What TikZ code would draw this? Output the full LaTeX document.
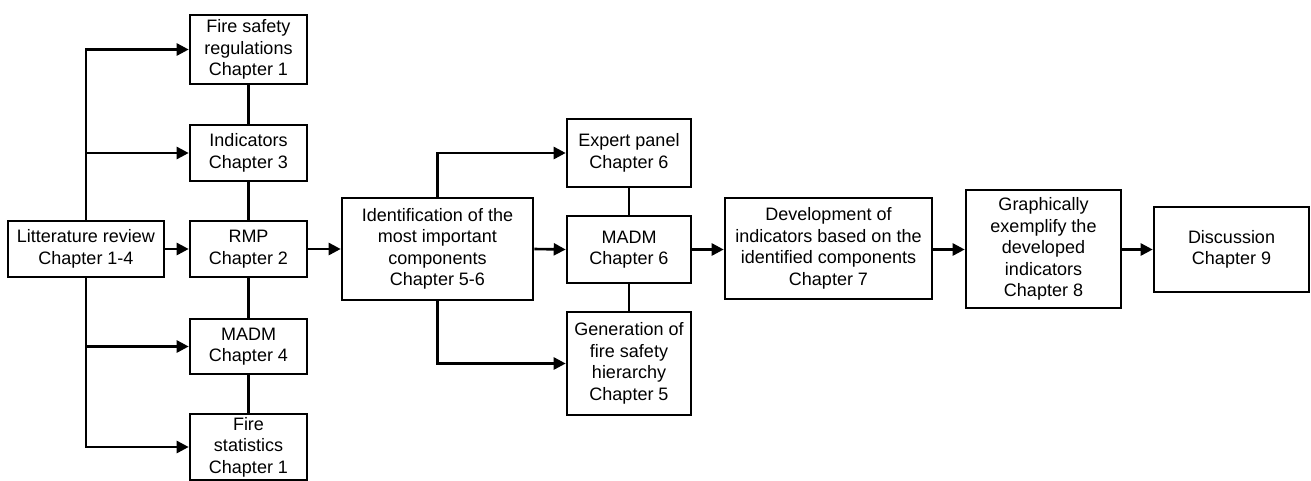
\documentclass[tikz,border=0pt]{standalone}
\usepackage{fontspec}
\setmainfont{Liberation Sans}
\usetikzlibrary{arrows.meta}
\begin{document}
\begin{tikzpicture}[x=1pt,y=-1pt,
  box/.style={draw=black, line width=2.6pt, fill=white, align=center, inner sep=0pt,
    font=\fontsize{18}{21.5}\selectfont},
  link/.style={line width=2.6pt},
  arr/.style={line width=2.6pt, -{Triangle[length=12pt,width=12pt]}}]
\fill[white] (0,0) rectangle (1311,480);
\useasboundingbox (0,0) rectangle (1311,480);

% left column
\node[box, minimum width=156pt, minimum height=56pt] (lit) at (86,249) {Litterature review\\Chapter 1-4};
\node[box, minimum width=117pt, minimum height=69pt] (fsr) at (248.5,49.5) {Fire safety\\regulations\\Chapter 1};
\node[box, minimum width=117pt, minimum height=56pt] (ind) at (248.5,153) {Indicators\\Chapter 3};
\node[box, minimum width=117pt, minimum height=56pt] (rmp) at (248.5,249) {RMP\\Chapter 2};
\node[box, minimum width=117pt, minimum height=55pt] (madmA) at (248.5,346.5) {MADM\\Chapter 4};
\node[box, minimum width=117pt, minimum height=66pt] (fstat) at (248.5,447) {Fire\\statistics\\Chapter 1};

% middle
\node[box, minimum width=191pt, minimum height=102pt] (ident) at (437.5,249) {Identification of the\\most important\\components\\Chapter 5-6};
\node[box, minimum width=124pt, minimum height=68pt] (expert) at (629,153) {Expert panel\\Chapter 6};
\node[box, minimum width=124pt, minimum height=67pt] (madmB) at (629,249.5) {MADM\\Chapter 6};
\node[box, minimum width=124pt, minimum height=103pt] (gen) at (629,363.5) {Generation of\\fire safety\\hierarchy\\Chapter 5};

% right
\node[box, minimum width=207pt, minimum height=101pt] (dev) at (828.5,248.5) {Development of\\indicators based on the\\identified components\\Chapter 7};
\node[box, minimum width=155pt, minimum height=118pt] (graph) at (1043.5,249) {Graphically\\exemplify the\\developed\\indicators\\Chapter 8};
\node[box, minimum width=155pt, minimum height=85pt] (disc) at (1231.5,249.5) {Discussion\\Chapter 9};

% literature review branches
\draw[arr] (lit.north) |- (fsr.west);
\draw[arr] (lit.north |- ind.west) -- (ind.west);
\draw[arr] (lit.east) -- (rmp.west);
\draw[arr] (lit.south) |- (madmA.west);
\draw[arr] (lit.south) |- (fstat.west);

% column links
\draw[link] (fsr.south) -- (ind.north);
\draw[link] (ind.south) -- (rmp.north);
\draw[link] (rmp.south) -- (madmA.north);
\draw[link] (madmA.south) -- (fstat.north);

\draw[arr] (rmp.east) -- (ident.west);
\draw[arr] (ident.north) |- (expert.west);
\draw[arr] (ident.east) -- (madmB.west);
\draw[arr] (ident.south) |- (gen.west);
\draw[link] (expert.south) -- (madmB.north);
\draw[link] (madmB.south) -- (gen.north);

% main flow
\draw[arr] (madmB.east) -- (dev.west |- madmB.east);
\draw[arr] (dev.east |- madmB.east) -- (graph.west |- madmB.east);
\draw[arr] (graph.east |- madmB.east) -- (disc.west |- madmB.east);
\end{tikzpicture}
\end{document}
